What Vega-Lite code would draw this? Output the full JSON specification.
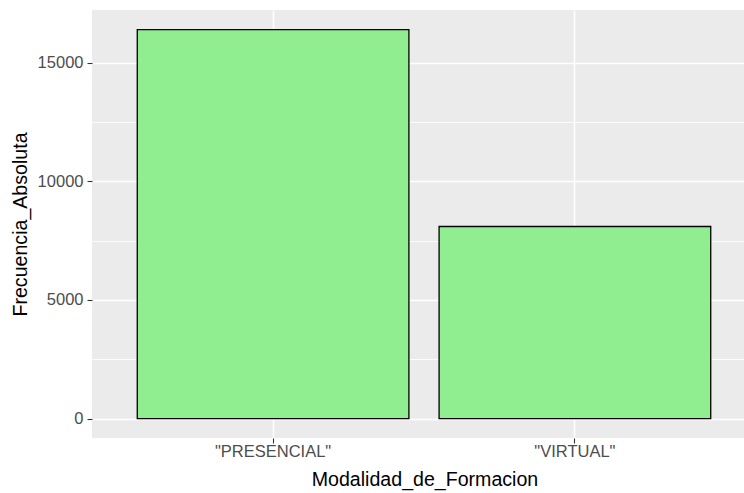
{
  "$schema": "https://vega.github.io/schema/vega-lite/v6.json",
  "autosize": "none",
  "padding": {"left": 92, "top": 10, "right": 0, "bottom": 55},
  "width": 652,
  "height": 428,
  "background": "white",
  "config": {
    "view": {"fill": "#EBEBEB", "stroke": null},
    "font": "Liberation Sans"
  },
  "data": {
    "values": [
      {"Modalidad_de_Formacion": "\"PRESENCIAL\"", "Frecuencia_Absoluta": 16390},
      {"Modalidad_de_Formacion": "\"VIRTUAL\"", "Frecuencia_Absoluta": 8095}
    ]
  },
  "encoding": {
    "x": {
      "field": "Modalidad_de_Formacion",
      "type": "nominal",
      "sort": null,
      "scale": {"range": [0, 664], "paddingInner": 0.1, "paddingOuter": 0.15}
    },
    "y": {
      "field": "Frecuencia_Absoluta",
      "type": "quantitative",
      "scale": {"domain": [-820, 17220], "nice": false, "zero": false}
    },
    "y2": {"datum": 0}
  },
  "layer": [
    {
      "mark": {"type": "bar", "opacity": 0},
      "encoding": {
        "y": {
          "field": "Frecuencia_Absoluta",
          "type": "quantitative",
          "scale": {"domain": [-820, 17220], "nice": false, "zero": false},
          "axis": {
            "orient": "left",
            "values": [2500, 7500, 12500],
            "grid": true,
            "gridColor": "white",
            "gridWidth": 0.8,
            "labels": false,
            "ticks": false,
            "domain": false,
            "title": null
          }
        }
      }
    },
    {
      "mark": {"type": "bar", "fill": "#90EE90", "stroke": "black", "strokeWidth": 1.3},
      "encoding": {
        "x": {
          "field": "Modalidad_de_Formacion",
          "type": "nominal",
          "sort": null,
          "scale": {"range": [0, 664], "paddingInner": 0.1, "paddingOuter": 0.15},
          "axis": {
            "bandPosition": 0.5,
            "grid": true,
            "gridColor": "white",
            "gridWidth": 1.5,
            "domain": false,
            "ticks": true,
            "tickColor": "#333333",
            "tickSize": 5,
            "tickWidth": 1.1,
            "labelAngle": 0,
            "labelAlign": "center",
            "labelColor": "#4D4D4D",
            "labelFontSize": 16.5,
            "labelPadding": 8,
            "title": "Modalidad_de_Formacion",
            "titleFontSize": 19.6,
            "titleFontWeight": "normal",
            "titleColor": "black",
            "titleBaseline": "alphabetic",
            "titleAlign": "center",
            "titleX": 332.5,
            "titleY": 47.5
          }
        },
        "y": {
          "field": "Frecuencia_Absoluta",
          "type": "quantitative",
          "scale": {"domain": [-820, 17220], "nice": false, "zero": false},
          "axis": {
            "orient": "left",
            "values": [0, 5000, 10000, 15000],
            "format": "d",
            "grid": true,
            "gridColor": "white",
            "gridWidth": 1.5,
            "domain": false,
            "tickColor": "#333333",
            "tickSize": 5,
            "tickWidth": 1.1,
            "labelColor": "#4D4D4D",
            "labelFontSize": 16.5,
            "labelPadding": 4,
            "title": "Frecuencia_Absoluta",
            "titleFontSize": 19.6,
            "titleFontWeight": "normal",
            "titleColor": "black",
            "titleBaseline": "alphabetic",
            "titleAngle": -90,
            "titleAlign": "center",
            "titleX": -66,
            "titleY": 214
          }
        }
      }
    }
  ],
  "resolve": {"axis": {"y": "independent"}}
}
